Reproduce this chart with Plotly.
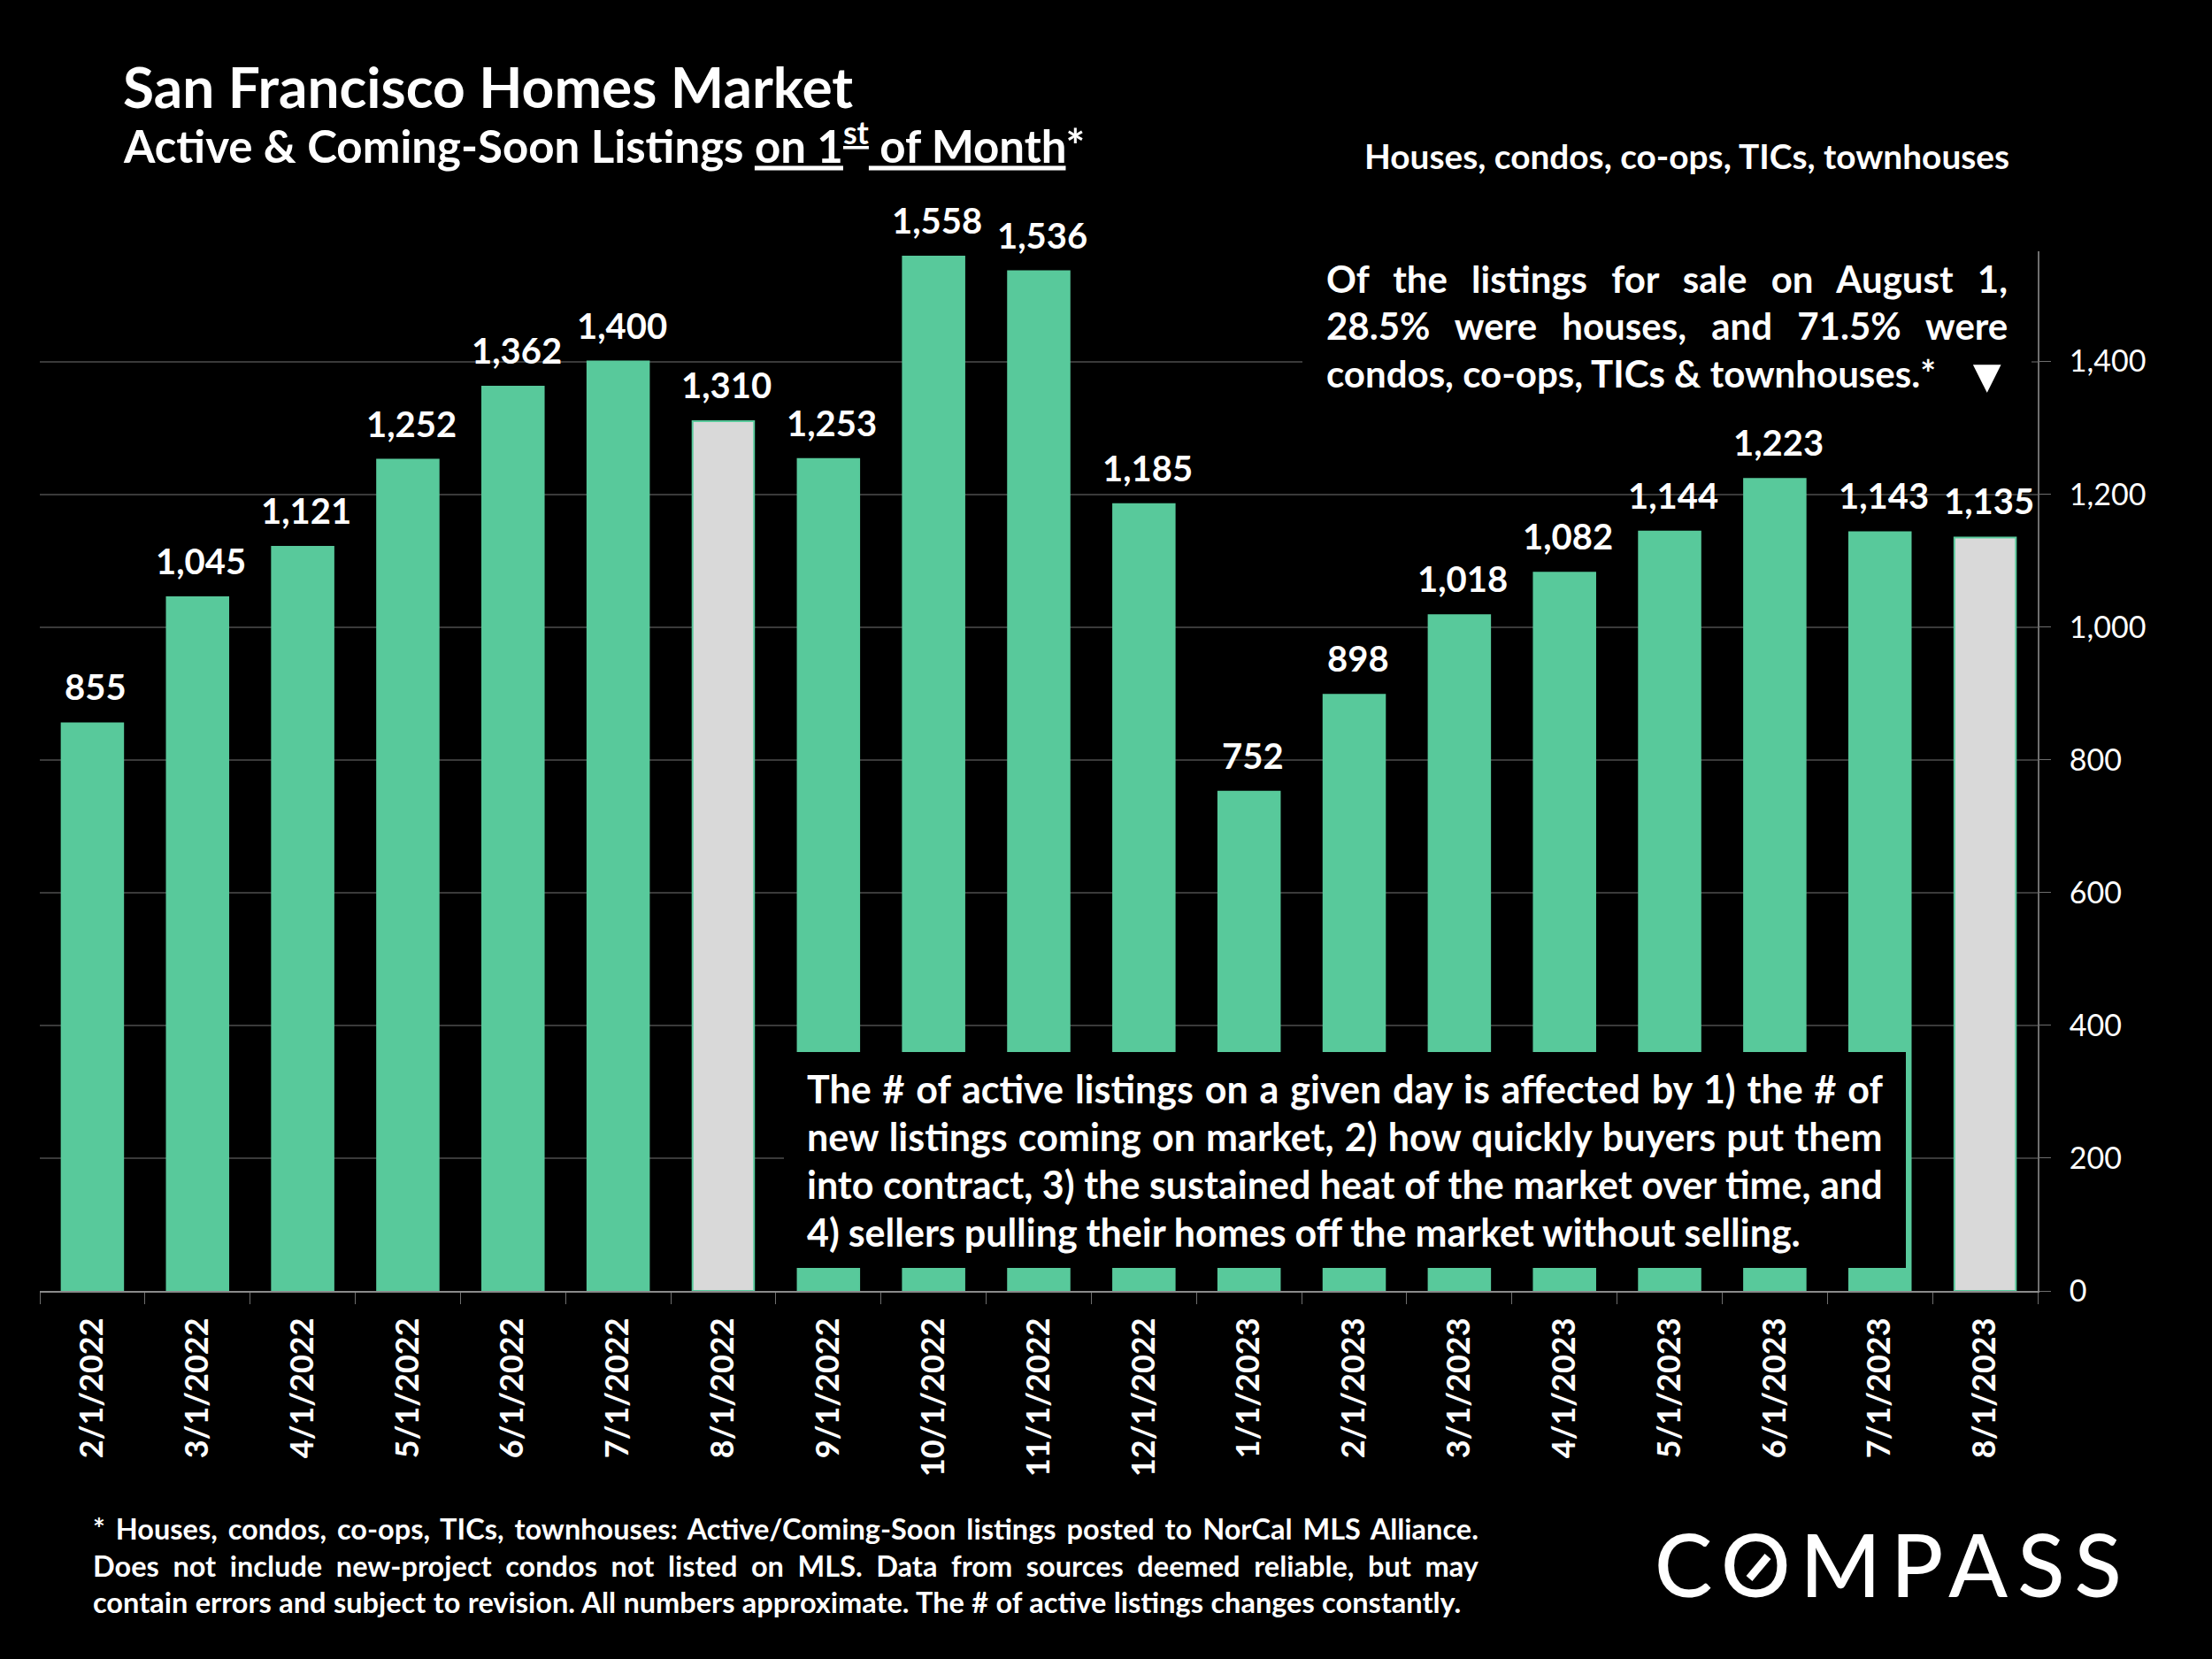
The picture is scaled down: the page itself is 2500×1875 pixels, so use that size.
import plotly.graph_objects as go

months = ['2/1/2022', '3/1/2022', '4/1/2022', '5/1/2022', '6/1/2022', '7/1/2022', '8/1/2022',
          '9/1/2022', '10/1/2022', '11/1/2022', '12/1/2022', '1/1/2023', '2/1/2023', '3/1/2023',
          '4/1/2023', '5/1/2023', '6/1/2023', '7/1/2023', '8/1/2023']
listings = [855, 1045, 1121, 1252, 1362, 1400, 1310, 1253, 1558, 1536, 1185, 752, 898, 1018,
            1082, 1144, 1223, 1143, 1135]
highlight = ['8/1/2022', '8/1/2023']
y_ticks = [0, 200, 400, 600, 800, 1000, 1200, 1400]

GREEN = '#58C99B'
GREY = '#D9D9D9'
FONT = 'Lato'

# plot area in page pixels
L, R, T, B = 45, 2303, 284, 1459


def px(x):
    return (x - L) / (R - L)


def py(y):
    return (B - y) / (B - T)


def label(text, x, y, size, anchor='left', ls=0, ws=0, weight=700):
    return dict(text='<span style="letter-spacing:%spx;word-spacing:%spx">%s</span>' % (ls, ws, text),
                x=px(x), y=py(y), xref='paper', yref='paper',
                xanchor=anchor, yanchor='middle', showarrow=False,
                font=dict(family=FONT, size=size, color='white', weight=weight))


fig = go.Figure()
fig.add_trace(go.Bar(
    x=months, y=listings, width=0.585,
    marker=dict(color=[GREY if m in highlight else GREEN for m in months],
                line=dict(color=GREEN, width=2)),
    hoverinfo='skip',
))

annotations = []
# value labels sit a bit above the bars
for m, v in zip(months, listings):
    annotations.append(dict(text='{:,}'.format(v), x=m, y=v, xref='x', yref='y',
                            xanchor='center', yanchor='bottom', yshift=15, xshift=4, showarrow=False,
                            font=dict(family=FONT, size=40, color='white', weight=700)))

# headings
annotations.append(label('San Francisco Homes Market', 137, 97, 64))
annotations.append(label('Active &amp; Coming-Soon Listings <u>on 1<sup>st</sup> of Month</u>*', 137, 161, 51))
annotations.append(label('Houses, condos, co-ops, TICs, townhouses', 1540, 176, 38.8))

# top right note
annotations.append(label('Of the listings for sale on August 1,', 1497, 315, 42, ws=17))
annotations.append(label('28.5% were houses, and 71.5% were', 1497, 368, 42, ws=18))
annotations.append(label('condos, co-ops, TICs &amp; townhouses.*', 1497, 422, 42))
annotations.append(label('▼', 2245, 422, 54, anchor='center'))

# bottom note
annotations.append(label('The # of active listings on a given day is affected by 1) the # of', 910, 1230, 43, ws=2.4))
annotations.append(label('new listings coming on market, 2) how quickly buyers put them', 910, 1284, 43, ws=1.7))
annotations.append(label('into contract, 3) the sustained heat of the market over time, and', 910, 1338, 43, ws=0.1))
annotations.append(label('4) sellers pulling their homes off the market without selling.', 910, 1392, 43, ws=-0.5))

# footnote
annotations.append(label('* Houses, condos, co-ops, TICs, townhouses: Active/Coming-Soon listings posted to NorCal MLS Alliance.', 103, 1727, 32.5, ws=4))
annotations.append(label('Does not include new-project condos not listed on MLS. Data from sources deemed reliable, but may', 103, 1769, 32.5, ws=7.7))
annotations.append(label('contain errors and subject to revision. All numbers approximate. The # of active listings changes constantly.', 103, 1810, 32.5, ws=0.5))

# logo
annotations.append(label('COMPASS', 1868, 1767, 98, ls=11, weight=500))

shapes = [
    # note backgrounds, they cover the grid and the bars
    dict(type='rect', xref='paper', yref='paper', x0=px(1472), x1=px(2296), y0=py(285), y1=py(445),
         fillcolor='black', line_width=0, layer='above'),
    dict(type='rect', xref='paper', yref='paper', x0=px(886), x1=px(2154), y0=py(1189), y1=py(1433),
         fillcolor='black', line_width=0, layer='above'),
    # slash in the logo O
    dict(type='line', xref='paper', yref='paper', x0=px(1977), x1=px(1998), y0=py(1784), y1=py(1759),
         line=dict(color='white', width=9), layer='above'),
]

fig.update_layout(
    width=2500, height=1875,
    autosize=False,
    margin=dict(l=L, r=2500 - R, t=T, b=1875 - B, pad=0),
    paper_bgcolor='black', plot_bgcolor='black',
    showlegend=False,
    bargap=0.41,
    annotations=annotations,
    shapes=shapes,
    font=dict(family=FONT, color='white'),
)
fig.update_xaxes(
    type='category', tickson='boundaries', ticks='outside', ticklen=13, tickcolor='#6e6e6e',
    showline=True, linecolor='#8a8a8a', linewidth=2, showgrid=False, tickangle=-90,
    ticklabelstandoff=14, tickfont=dict(family=FONT, size=36, color='white', weight=700),
)
fig.update_yaxes(
    side='right', range=[0, 1566], tickvals=y_ticks, tickformat=',', ticks='outside', ticklen=13,
    tickcolor='#6e6e6e', showline=True, linecolor='#6e6e6e', linewidth=2,
    gridcolor='#3a3a3a', gridwidth=1.5, zeroline=False, ticklabelstandoff=14,
    tickfont=dict(family=FONT, size=34, color='white'),
)

# page margin would shift the chart off the canvas
fig.write_html("out.html", config={'displayModeBar': False},
               post_script="document.body.style.margin='0';document.body.style.background='black';")
